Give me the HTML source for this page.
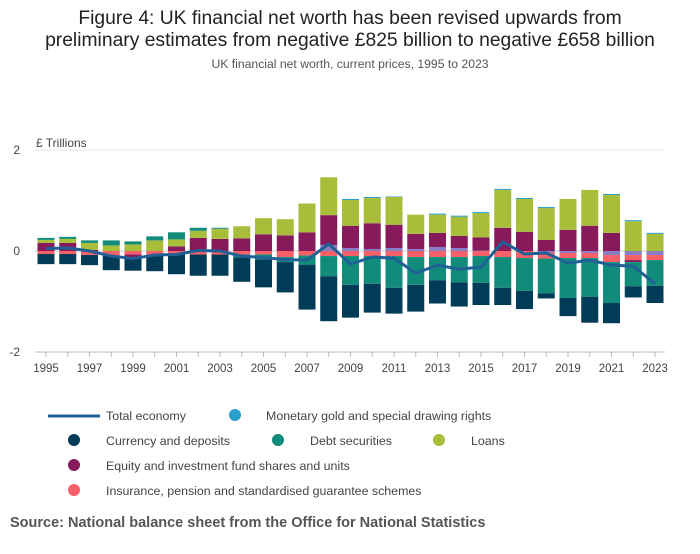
<!DOCTYPE html>
<html><head><meta charset="utf-8">
<style>
body{margin:0;background:#fff;font-family:"Liberation Sans",sans-serif;}
</style></head>
<body>
<svg width="700" height="549" xmlns="http://www.w3.org/2000/svg" style="font-family:'Liberation Sans',sans-serif">
<text x="350" y="24" text-anchor="middle" font-size="19.3" fill="#222">Figure 4: UK financial net worth has been revised upwards from</text>
<text x="350" y="46" text-anchor="middle" font-size="19.3" fill="#222">preliminary estimates from negative £825 billion to negative £658 billion</text>
<text x="350" y="68" text-anchor="middle" font-size="12.2" fill="#555">UK financial net worth, current prices, 1995 to 2023</text>
<text x="36" y="147" font-size="12" fill="#444">£ Trillions</text>
<g id="grid"></g>
<g id="bars"></g>
<g id="line"></g>
<g id="xaxis"></g>
<g id="legend" font-size="12.4" fill="#444">
<line x1="48" y1="416" x2="100" y2="416" stroke="#206095" stroke-width="3"/>
<text x="106" y="420">Total economy</text>
<circle cx="235" cy="415" r="6" fill="#27a0cc"/>
<text x="266" y="420">Monetary gold and special drawing rights</text>
<circle cx="74" cy="440" r="6" fill="#003c57"/>
<text x="106" y="445">Currency and deposits</text>
<circle cx="278" cy="440" r="6" fill="#118c7b"/>
<text x="310" y="445">Debt securities</text>
<circle cx="439" cy="440" r="6" fill="#a8bd3a"/>
<text x="471" y="445">Loans</text>
<circle cx="74" cy="465" r="6" fill="#871a5b"/>
<text x="106" y="470">Equity and investment fund shares and units</text>
<circle cx="74" cy="490" r="6" fill="#f66068"/>
<text x="106" y="495">Insurance, pension and standardised guarantee schemes</text>
</g>
<text x="10" y="527" font-size="14.5" font-weight="bold" fill="#555">Source: National balance sheet from the Office for National Statistics</text>
</svg>
<script>
const years=[1995,1996,1997,1998,1999,2000,2001,2002,2003,2004,2005,2006,2007,2008,2009,2010,2011,2012,2013,2014,2015,2016,2017,2018,2019,2020,2021,2022,2023];
const other=[0,0,0,0,0,0,0,0,0,0,0,0,0,0.12,0.06,0.04,0.06,0.04,0.08,0.06,0.01,0,0,-0.03,-0.04,-0.04,-0.08,-0.08,-0.08];
const insurance=[-0.06,-0.06,-0.08,-0.09,-0.07,-0.08,-0.06,-0.07,-0.07,-0.07,-0.07,-0.12,-0.09,-0.1,-0.1,-0.1,-0.1,-0.12,-0.12,-0.12,-0.1,-0.12,-0.14,-0.12,-0.1,-0.1,-0.14,-0.1,-0.1];
const equity=[0.16,0.16,0.02,0,-0.05,0,0.09,0.26,0.24,0.25,0.33,0.31,0.37,0.59,0.44,0.51,0.46,0.3,0.28,0.24,0.26,0.46,0.38,0.22,0.42,0.5,0.36,-0.04,0];
const loans=[0.06,0.08,0.14,0.11,0.13,0.21,0.14,0.14,0.2,0.24,0.32,0.32,0.57,0.75,0.51,0.5,0.55,0.38,0.36,0.38,0.48,0.75,0.65,0.63,0.61,0.71,0.75,0.59,0.34];
const debt=[0.04,0.04,0.05,0.1,0.06,0.08,0.14,0.06,0.02,-0.06,-0.1,-0.1,-0.18,-0.4,-0.57,-0.55,-0.63,-0.55,-0.46,-0.5,-0.53,-0.61,-0.65,-0.69,-0.79,-0.77,-0.81,-0.48,-0.51];
const currency=[-0.2,-0.2,-0.2,-0.29,-0.27,-0.32,-0.4,-0.42,-0.42,-0.48,-0.55,-0.6,-0.89,-0.89,-0.65,-0.57,-0.51,-0.53,-0.46,-0.48,-0.44,-0.34,-0.36,-0.1,-0.36,-0.51,-0.4,-0.22,-0.34];
const gold=[0,0,0,0,0,0,0,0,0,0,0,0,0,0,0.02,0.02,0.01,0,0.02,0.02,0.02,0.02,0.02,0.02,0,0,0.02,0.02,0.02];
const total=[0.05,0.06,0,-0.1,-0.15,-0.08,-0.07,0.01,0,-0.1,-0.13,-0.17,-0.18,0.14,-0.26,-0.12,-0.14,-0.44,-0.28,-0.36,-0.32,0.18,-0.06,-0.04,-0.24,-0.18,-0.28,-0.3,-0.65];
const yTicks=[2,0,-2];
const NS="http://www.w3.org/2000/svg";
const xs=i=>46+i*21.75;
const ys=v=>251-v*50.5;
function mk(tag,attrs,parent){const e=document.createElementNS(NS,tag);for(const k in attrs)e.setAttribute(k,attrs[k]);document.getElementById(parent).appendChild(e);return e;}
yTicks.forEach(t=>{
  const l=mk('line',{x1:35,x2:665,y1:ys(t),y2:ys(t),stroke:t===0?'#ccc':'#e4e4e4','stroke-width':1},'grid');
  
  
  const tx=mk('text',{x:20,y:ys(t)+4,'text-anchor':'end','font-size':12,fill:'#444'},'grid');
  tx.textContent=t;
  
  
});
const series=[[other,'#8a7dc2','other'],[insurance,'#f66068','insurance'],[equity,'#871a5b','equity'],[loans,'#a8bd3a','loans'],[debt,'#118c7b','debt'],[currency,'#003c57','currency'],[gold,'#27a0cc','gold']];
years.forEach((yr,i)=>{
  let p=0,n=0;
  series.forEach(([arr,col,nm])=>{
    const v=arr[i]; if(!v)return;
    let a,b; if(v>0){a=p;b=p+v;p=b;}else{a=n;b=n+v;n=b;}
    const r=mk('rect',{x:xs(i)-8.5,width:17,y:Math.min(ys(a),ys(b)),height:Math.abs(ys(a)-ys(b)),fill:col},'bars');
    
    
  });
  const t=mk('line',{x1:xs(i),x2:xs(i),y1:352,y2:357,stroke:'#bbb'},'xaxis');
  
  
  if(yr%2===1){
    const tx=mk('text',{x:xs(i),y:372,'text-anchor':'middle','font-size':11.5,fill:'#444'},'xaxis');
    tx.textContent=yr;
    
    
  }
});
const ax=mk('line',{x1:35,x2:665,y1:352,y2:352,stroke:'#bbb'},'xaxis');


const pl=mk('polyline',{points:total.map((v,i)=>xs(i)+','+ys(v)).join(' '),fill:'none',stroke:'#206095','stroke-width':3,'stroke-linejoin':'round'},'line');


</script>
</body></html>
